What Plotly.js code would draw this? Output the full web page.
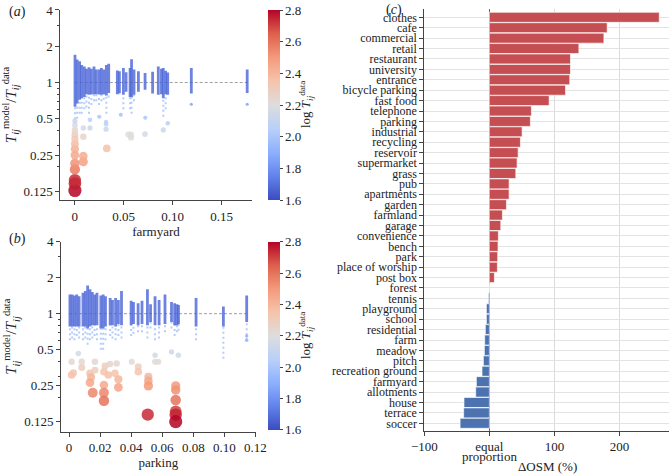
<!DOCTYPE html>
<html>
<head>
<meta charset="utf-8">
<script src="https://cdn.plot.ly/plotly-3.0.1.min.js"></script>
<style>
  body { margin: 0; background: #fff; }
  #plot { width: 670px; height: 474px; }
</style>
</head>
<body>
<div id="plot"></div>
<script>
// ---- panel (a): farmyard ----
// dense vertical strips of small blue points: x, core low, core high, lowest tail point
var aStripX  = [0.0003, 0.0025, 0.005, 0.0071, 0.0098, 0.012, 0.0146, 0.017, 0.0197, 0.022, 0.0248, 0.0272, 0.0296, 0.0323, 0.0347,
                0.0435, 0.0456, 0.0497, 0.0524, 0.0565, 0.058, 0.0605, 0.065, 0.0718, 0.0795, 0.0853, 0.0885, 0.0904, 0.0928, 0.0949, 0.119, 0.176];
var aStripLo = [0.63, 0.67, 0.72, 0.74, 0.76, 0.80, 0.79, 0.80, 0.80, 0.80, 0.80, 0.79, 0.80, 0.78, 0.82,
                0.80, 0.82, 0.79, 0.84, 0.76, 0.76, 0.79, 0.84, 0.87, 0.81, 0.79, 0.80, 0.74, 0.80, 0.79, 0.81, 0.82];
var aStripHi = [1.70, 1.55, 1.50, 1.40, 1.36, 1.30, 1.34, 1.30, 1.36, 1.28, 1.28, 1.32, 1.28, 1.40, 1.43,
                1.26, 1.24, 1.32, 1.22, 1.32, 1.56, 1.28, 1.24, 1.20, 1.23, 1.36, 1.30, 1.32, 1.25, 1.21, 1.32, 1.28];
var aTailLo  = [0.45, 0.50, 0.55, 0.55, 0.60, 0.62, 0.55, 0.65, 0.70, 0.70, 0.65, 0.70, 0.72, 0.55, 0.75,
                0.80, 0.80, 0.60, 0.84, 0.60, 0.55, 0.70, 0.84, 0.87, 0.81, 0.79, 0.80, 0.52, 0.60, 0.79, 0.81, 0.82];
// larger coloured points (x, ratio, log T data)
var aPtX = [0.0002, 0.0002, 0.0002, 0.0002, 0.0002, 0.0002, 0.0002, 0.0002, 0.0002, 0.0002, 0.0002, 0.0002, 0.0002,
            0.0088, 0.0088, 0.0088, 0.0088, 0.0156, 0.0156, 0.025, 0.0327, 0.032, 0.032, 0.032, 0.047,
            0.0547, 0.0574, 0.0574, 0.0717, 0.072, 0.0904, 0.095, 0.119, 0.176];
var aPtY = [0.127, 0.145, 0.155, 0.19, 0.213, 0.25, 0.28, 0.31, 0.34, 0.367, 0.40, 0.44, 0.48,
            0.22, 0.245, 0.355, 0.42, 0.49, 0.42, 0.52, 0.284, 0.41, 0.45, 0.47, 0.54,
            0.37, 0.35, 0.37, 0.373, 0.51, 0.404, 0.46, 0.66, 0.66];
var aPtC = [2.80, 2.76, 2.74, 2.58, 2.52, 2.45, 2.42, 2.38, 2.33, 2.30, 2.25, 2.18, 2.12,
            2.48, 2.44, 2.26, 2.15, 2.05, 2.12, 2.00, 2.36, 2.12, 2.08, 2.05, 1.98,
            2.20, 2.22, 2.20, 2.16, 2.00, 2.12, 2.05, 1.85, 1.85];

// ---- panel (b): parking ----
var bStripX  = [0.0006, 0.002, 0.0035, 0.005, 0.0065, 0.009, 0.0105, 0.012, 0.0135, 0.015, 0.0165, 0.018,
                0.0205, 0.022, 0.0235, 0.0265, 0.028, 0.030, 0.0318, 0.0338, 0.040, 0.0415, 0.0445, 0.047,
                0.0505, 0.0525, 0.0554, 0.058, 0.0618, 0.066, 0.068, 0.0695, 0.0705, 0.0818, 0.0994, 0.1144];
var bStripLo = [0.78, 0.78, 0.78, 0.78, 0.78, 0.78, 0.78, 0.75, 0.78, 0.80, 0.80, 0.80,
                0.75, 0.75, 0.78, 0.80, 0.80, 0.78, 0.82, 0.80, 0.80, 0.82, 0.80, 0.82,
                0.80, 0.85, 0.80, 0.80, 0.82, 0.85, 0.80, 0.80, 0.82, 0.78, 0.78, 0.85];
var bStripHi = [1.45, 1.45, 1.42, 1.45, 1.40, 1.50, 1.55, 1.72, 1.60, 1.52, 1.45, 1.50,
                1.42, 1.45, 1.40, 1.35, 1.30, 1.35, 1.30, 1.55, 1.28, 1.25, 1.22, 1.28,
                1.60, 1.20, 1.40, 1.30, 1.45, 1.25, 1.22, 1.20, 1.18, 1.35, 1.15, 1.42];
var bTailLo  = [0.60, 0.62, 0.60, 0.65, 0.62, 0.60, 0.62, 0.55, 0.60, 0.62, 0.65, 0.60,
                0.50, 0.50, 0.60, 0.65, 0.62, 0.60, 0.65, 0.62, 0.65, 0.68, 0.70, 0.70,
                0.62, 0.75, 0.60, 0.62, 0.70, 0.75, 0.65, 0.70, 0.72, 0.60, 0.42, 0.60];
var bPtX = [0.0017, 0.0028, 0.0017, 0.0082, 0.0082, 0.006, 0.0135, 0.0142, 0.0135, 0.0153, 0.0167, 0.0167,
            0.0225, 0.0225, 0.0225, 0.0225, 0.0232, 0.0253, 0.0264, 0.0296, 0.0318, 0.0318, 0.0307,
            0.0404, 0.0446, 0.0446, 0.0511, 0.0511, 0.0511, 0.0554, 0.0554, 0.0575, 0.0507,
            0.0687, 0.0687, 0.0687, 0.0687, 0.0687, 0.0687, 0.066, 0.0704, 0.1144, 0.1144];
var bPtY = [0.307, 0.32, 0.396, 0.355, 0.396, 0.465, 0.317, 0.294, 0.265, 0.218, 0.337, 0.396,
            0.253, 0.218, 0.187, 0.327, 0.365, 0.307, 0.38, 0.317, 0.283, 0.242, 0.384,
            0.396, 0.36, 0.327, 0.297, 0.274, 0.249, 0.396, 0.45, 0.396, 0.143,
            0.249, 0.23, 0.19, 0.152, 0.143, 0.125, 0.48, 0.45, 0.65, 0.60];
var bPtC = [2.36, 2.34, 2.24, 2.30, 2.24, 2.15, 2.35, 2.40, 2.45, 2.55, 2.30, 2.24,
            2.45, 2.55, 2.60, 2.35, 2.30, 2.36, 2.25, 2.35, 2.40, 2.46, 2.25,
            2.22, 2.30, 2.35, 2.40, 2.45, 2.50, 2.22, 2.15, 2.22, 2.74,
            2.50, 2.52, 2.60, 2.70, 2.75, 2.80, 2.12, 2.15, 1.90, 1.92];

// ---- panel (c): ΔOSM ----
var categories = ['clothes', 'cafe', 'commercial', 'retail', 'restaurant', 'university', 'entrance', 'bicycle parking',
                  'fast food', 'telephone', 'parking', 'industrial', 'recycling', 'reservoir', 'supermarket', 'grass',
                  'pub', 'apartments', 'garden', 'farmland', 'garage', 'convenience', 'bench', 'park',
                  'place of worship', 'post box', 'forest', 'tennis', 'playground', 'school', 'residential', 'farm',
                  'meadow', 'pitch', 'recreation ground', 'farmyard', 'allotments', 'house', 'terrace', 'soccer'];
var deltaOSM = [261, 181, 176, 137.5, 124.6, 124.6, 123.5, 117,
                91.8, 64.6, 63, 50.3, 47.7, 44.2, 42.6, 40.6,
                30.3, 30.3, 26.2, 20, 17.5, 13.8, 13.3, 12.8,
                12.3, 7.7, 0, -1.5, -4.6, -4.6, -6.2, -7.2,
                -7.7, -9.2, -11.3, -20, -21, -39, -39.5, -45];
var osmTicks = [-100, 0, 100, 200];
var osmTickText = ['\u2212100', 'equal', '100', '200'];

var coolwarm = [
    [0.0, '#3b4cc0'], [0.125, '#6282ea'], [0.25, '#8db0fe'], [0.375, '#b9d0f9'],
    [0.5, '#dddddd'], [0.625, '#f5c4ac'], [0.75, '#f49a7b'], [0.875, '#de604d'], [1.0, '#b40426']
];
var serif = 'Liberation Serif, Times New Roman, serif';
var axisCol = '#444';
var txtCol = '#222';

function markerSize(c) {
    return 2 + 8.5 * Math.pow(Math.max(c - 1.6, 0), 1.5);
}

function stripXY(xs, a, b) {
    var x = [], y = [];
    for (var i = 0; i < xs.length; i++) {
        if (a[i] >= b[i]) continue;
        x.push(xs[i], xs[i], null);
        y.push(a[i], b[i], null);
    }
    return {x: x, y: y};
}

function scatterTraces(sx, lo, hi, tail, px, py, pc, xa, ya, cbTop, cbLen, xmax) {
    var core = stripXY(sx, lo, hi);
    var tl = stripXY(sx, tail, lo);
    return [
        {x: [0, xmax], y: [1, 1], xaxis: xa, yaxis: ya, mode: 'lines', hoverinfo: 'skip',
         line: {color: '#888', width: 0.8, dash: '3px,2px'}},
        // sparse tail below each strip: dotted, pale
        {x: tl.x, y: tl.y, xaxis: xa, yaxis: ya, mode: 'lines', connectgaps: false,
         line: {color: 'rgba(150,182,250,0.7)', width: 2, dash: '2px,3px'}},
        {x: core.x, y: core.y, xaxis: xa, yaxis: ya, mode: 'lines', connectgaps: false,
         line: {color: 'rgba(72,100,215,0.8)', width: 2.8}},
        {x: px, y: py, xaxis: xa, yaxis: ya, mode: 'markers', type: 'scatter',
         marker: {
             color: pc, cmin: 1.6, cmax: 2.8, colorscale: coolwarm, opacity: 0.85,
             size: pc.map(markerSize), line: {width: 0},
             showscale: true,
             colorbar: {
                 x: 268 / 670, xanchor: 'left', xpad: 0,
                 y: cbTop, yanchor: 'top', ypad: 0,
                 thickness: 12, len: cbLen, lenmode: 'pixels',
                 outlinewidth: 0, ticks: 'outside', ticklen: 3, tickcolor: axisCol,
                 tickvals: [1.6, 1.8, 2.0, 2.2, 2.4, 2.6, 2.8],
                 ticktext: ['1.6', '1.8', '2.0', '2.2', '2.4', '2.6', '2.8'],
                 tickfont: {family: serif, size: 13, color: txtCol}
             }
         }}
    ];
}

var data = [];
data = data.concat(scatterTraces(aStripX, aStripLo, aStripHi, aTailLo, aPtX, aPtY, aPtC, 'x', 'y', 1 - 10 / 474, 190, 0.177));
data = data.concat(scatterTraces(bStripX, bStripLo, bStripHi, bTailLo, bPtX, bPtY, bPtC, 'x2', 'y2', 1 - 241.7 / 474, 188, 0.1144));

data.push({
    type: 'bar', orientation: 'h', xaxis: 'x3', yaxis: 'y3',
    x: deltaOSM, y: categories, width: 0.96,
    marker: {color: deltaOSM.map(function (v) { return v >= 0 ? '#C44E52' : '#4C72B0'; }),
             line: {color: 'rgba(255,255,255,0.8)', width: 0.8}}
});

var ratioTicks = {
    type: 'log', tickvals: [0.125, 0.25, 0.5, 1, 2, 4], ticktext: ['0.125', '0.25', '0.5', '1', '2', '4'],
    ticks: 'outside', ticklen: 4, tickcolor: axisCol, showline: true, linecolor: axisCol, linewidth: 1,
    showgrid: false, zeroline: false, tickfont: {family: serif, size: 13, color: txtCol},
    minor: {tickvals: [0.2, 0.3, 0.4, 0.6, 0.7, 0.8, 0.9, 3], ticks: 'outside', ticklen: 2, tickcolor: axisCol},
    title: {text: '<i>T</i><sub><i>ij</i></sub><sup>model</sup>/<i>T</i><sub><i>ij</i></sub><sup>data</sup>',
            font: {family: serif, size: 15, color: txtCol}, standoff: 3}
};

function xScatter(dom, range, tv, tt, title, anchor) {
    return {
        domain: dom, range: range, anchor: anchor, tickvals: tv, ticktext: tt,
        ticks: 'outside', ticklen: 4, tickcolor: axisCol, showline: true, linecolor: axisCol, linewidth: 1,
        showgrid: false, zeroline: false, tickfont: {family: serif, size: 13, color: txtCol},
        title: {text: title, font: {family: serif, size: 13, color: txtCol}, standoff: 0}
    };
}

function note(text, x, y, opts) {
    return Object.assign({text: text, x: x / 670, y: 1 - y / 474, xref: 'paper', yref: 'paper',
                          xanchor: 'center', yanchor: 'middle', showarrow: false,
                          font: {family: serif, size: 13, color: txtCol}}, opts || {});
}

var cbTitle = 'log <i>T</i><sub><i>ij</i></sub><sup>data</sup>';

var layout = {
    width: 670, height: 474,
    margin: {l: 0, r: 0, t: 0, b: 0},
    paper_bgcolor: '#fff', plot_bgcolor: '#fff',
    showlegend: false,
    font: {family: serif, color: txtCol},
    xaxis: xScatter([60.3 / 670, 251.7 / 670], [-0.0147, 0.1806], [0, 0.05, 0.10, 0.15], ['0', '0.05', '0.10', '0.15'], 'farmyard', 'y'),
    yaxis: Object.assign({}, ratioTicks, {domain: [1 - 200 / 474, 1 - 10 / 474], range: [-0.975, 0.602], anchor: 'x'}),
    xaxis2: xScatter([61 / 670, 255.7 / 670], [-0.00515, 0.1202], [0, 0.02, 0.04, 0.06, 0.08, 0.10, 0.12],
                     ['0', '0.02', '0.04', '0.06', '0.08', '0.10', '0.12'], 'parking', 'y2'),
    yaxis2: Object.assign({}, ratioTicks, {domain: [1 - 431.7 / 474, 1 - 241.7 / 474], range: [-0.987, 0.602], anchor: 'x2'}),
    xaxis3: {
        domain: [424.3 / 670, 669 / 670], range: [-100, 276], anchor: 'y3',
        tickmode: 'array', tickvals: osmTicks, ticktext: osmTickText,
        ticks: 'outside', ticklen: 4, tickcolor: axisCol, showline: true, linecolor: axisCol, linewidth: 1,
        showgrid: true, gridcolor: '#dcdcdc', gridwidth: 1,
        zeroline: true, zerolinecolor: '#666', zerolinewidth: 1,
        tickfont: {family: serif, size: 13, color: txtCol}
    },
    yaxis3: {
        domain: [1 - 430.7 / 474, 1 - 9 / 474], type: 'category', range: [39.71, -0.8], anchor: 'x3',
        tickmode: 'array', tickvals: categories, ticktext: categories,
        ticks: 'outside', ticklen: 4, tickcolor: axisCol, showline: true, linecolor: axisCol, linewidth: 1,
        showgrid: true, gridcolor: '#e3e3e3', gridwidth: 1,
        tickfont: {family: serif, size: 12, color: txtCol}
    },
    annotations: [
        note('(<i>a</i>)', 7, 2, {xanchor: 'left', yanchor: 'top', font: {family: serif, size: 14, color: txtCol}}),
        note('(<i>b</i>)', 7, 229, {xanchor: 'left', yanchor: 'top', font: {family: serif, size: 14, color: txtCol}}),
        note('(<i>c</i>)', 384, 0, {xanchor: 'left', yanchor: 'top', font: {family: serif, size: 14, color: txtCol}}),
        note(cbTitle, 306, 105, {textangle: -90}),
        note(cbTitle, 306, 336, {textangle: -90}),
        {text: 'proportion', x: 0, xref: 'x3', y: 1 - 456 / 474, yref: 'paper', xanchor: 'center', yanchor: 'middle',
         showarrow: false, font: {family: serif, size: 13, color: txtCol}},
        note('\u0394OSM (%)', 547, 466)
    ]
};

Plotly.newPlot('plot', data, layout, {displayModeBar: false, staticPlot: true});
</script>
</body>
</html>
